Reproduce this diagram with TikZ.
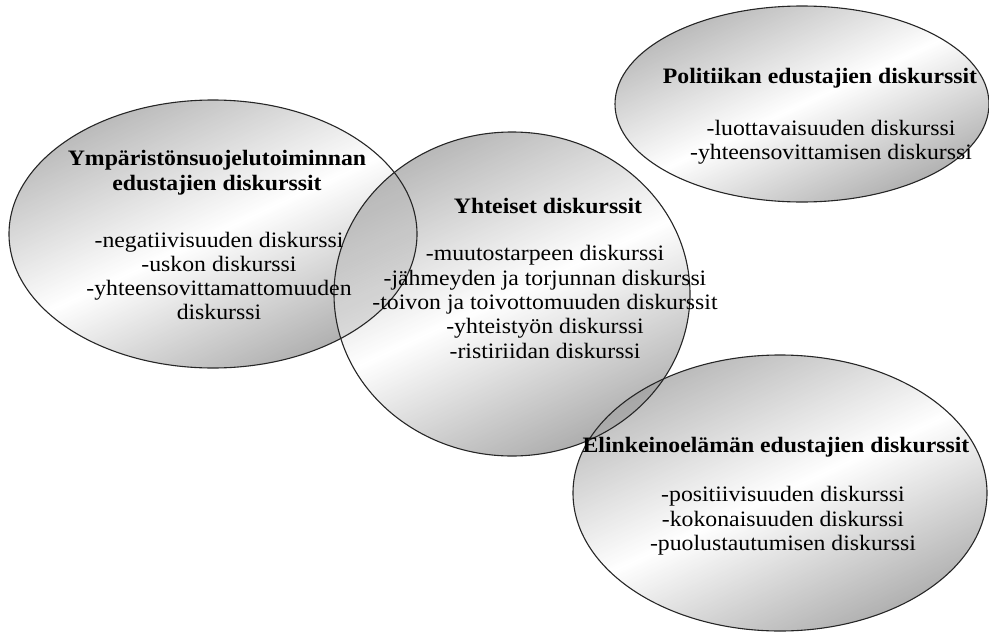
\documentclass[tikz,border=0pt]{standalone}
\usepackage{fontspec}
\setmainfont[FakeStretch=1.08]{Liberation Serif}
\usetikzlibrary{shapes.geometric}
\tikzset{
  ellfill/.style={ellipse, inner sep=0pt, draw=none, fill opacity=0.7,
    shading=axis, top color=black!40, bottom color=black!46, middle color=white, shading angle=25},
  ellline/.style={draw=black!85, line width=1.1pt},
  head/.style={align=center, font=\fontsize{22}{25}\selectfont\bfseries},
  items/.style={align=center, font=\fontsize{22}{24.3}\selectfont},
}
\begin{document}
\begin{tikzpicture}[x=1pt,y=-1pt]
\useasboundingbox (0,0) rectangle (989,632);
% ellipse fills
\node[ellfill, minimum width=408pt, minimum height=268pt] (L) at (213,234) {};
\node[ellfill, minimum width=356pt, minimum height=324pt] (C) at (512,294) {};
\node[ellfill, minimum width=374pt, minimum height=196pt] (P) at (802,104) {};
\node[ellfill, minimum width=414pt, minimum height=276pt] (E) at (780,493) {};
% outlines
\draw[ellline] (L.center) ellipse [x radius=204pt, y radius=134pt];
\draw[ellline] (C.center) ellipse [x radius=178pt, y radius=162pt];
\draw[ellline] (P.center) ellipse [x radius=187pt, y radius=98pt];
\draw[ellline] (E.center) ellipse [x radius=207pt, y radius=138pt];
% texts
\node[head] (Lh) at (217,173) {Ympäristönsuojelutoiminnan\\edustajien diskurssit};
\node[items] (Li) at (219,276) {-negatiivisuuden diskurssi\\-uskon diskurssi\\-yhteensovittamattomuuden\\diskurssi};
\node[head] (Ch) at (548,206) {Yhteiset diskurssit};
\node[items] (Ci) at (545,302) {-muutostarpeen diskurssi\\-jähmeyden ja torjunnan diskurssi\\-toivon ja toivottomuuden diskurssit\\-yhteistyön diskurssi\\-ristiriidan diskurssi};
\node[head] (Ph) at (820,78) {Politiikan edustajien diskurssit};
\node[items] (Pi) at (831,142) {-luottavaisuuden diskurssi\\-yhteensovittamisen diskurssi};
\node[head] (Eh) at (776,447) {Elinkeinoelämän edustajien diskurssit};
\node[items] (Ei) at (783,521) {-positiivisuuden diskurssi\\-kokonaisuuden diskurssi\\-puolustautumisen diskurssi};
\end{tikzpicture}
\end{document}
